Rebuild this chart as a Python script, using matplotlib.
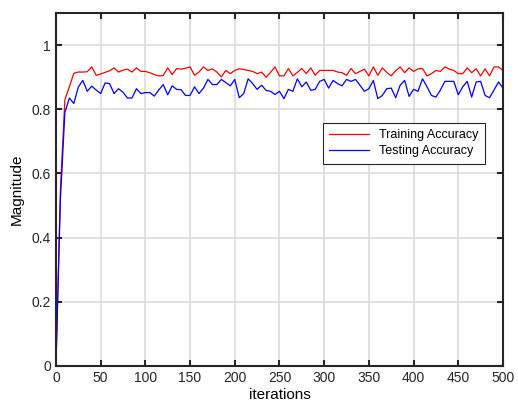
import numpy as np
import matplotlib
matplotlib.use('Agg')
import matplotlib.pyplot as plt

plt.rcParams['font.family'] = ['Liberation Sans', 'DejaVu Sans']

iterations = list(range(0, 501, 5))

train_acc = [0.0, 0.55, 0.83, 0.87, 0.912, 0.916, 0.916, 0.917, 0.932, 0.906,
             0.91, 0.915, 0.92, 0.929, 0.916, 0.922, 0.925, 0.916, 0.929, 0.918,
             0.918, 0.914, 0.908, 0.904, 0.905, 0.929, 0.908, 0.927, 0.925, 0.928,
             0.932, 0.906, 0.916, 0.932, 0.921, 0.926, 0.916, 0.901, 0.921, 0.911,
             0.921, 0.926, 0.924, 0.921, 0.918, 0.911, 0.916, 0.900, 0.915, 0.932,
             0.904, 0.904, 0.927, 0.904, 0.915, 0.927, 0.911, 0.929, 0.906, 0.921,
             0.921, 0.921, 0.921, 0.916, 0.914, 0.906, 0.927, 0.911, 0.918, 0.925,
             0.904, 0.932, 0.906, 0.929, 0.915, 0.904, 0.92, 0.932, 0.914, 0.929,
             0.918, 0.926, 0.927, 0.904, 0.911, 0.921, 0.918, 0.932, 0.925, 0.921,
             0.911, 0.911, 0.929, 0.914, 0.926, 0.904, 0.926, 0.904, 0.932, 0.932,
             0.921]

test_acc = [0.0, 0.52, 0.79, 0.835, 0.818, 0.869, 0.89, 0.856, 0.872, 0.86,
            0.849, 0.882, 0.88, 0.849, 0.864, 0.853, 0.835, 0.835, 0.864, 0.849,
            0.852, 0.852, 0.841, 0.86, 0.877, 0.845, 0.873, 0.862, 0.861, 0.843,
            0.843, 0.87, 0.849, 0.866, 0.893, 0.877, 0.877, 0.893, 0.883, 0.873,
            0.893, 0.836, 0.849, 0.895, 0.88, 0.862, 0.875, 0.859, 0.856, 0.846,
            0.856, 0.833, 0.862, 0.856, 0.895, 0.87, 0.885, 0.859, 0.862, 0.887,
            0.893, 0.866, 0.89, 0.88, 0.873, 0.893, 0.887, 0.893, 0.875, 0.856,
            0.864, 0.89, 0.833, 0.843, 0.864, 0.866, 0.836, 0.875, 0.89, 0.84,
            0.862, 0.856, 0.895, 0.87, 0.843, 0.838, 0.86, 0.887, 0.887, 0.887,
            0.845, 0.87, 0.887, 0.838, 0.885, 0.887, 0.843, 0.836, 0.86, 0.885,
            0.866]

fig = plt.figure(figsize=(5.18, 4.07), dpi=100)
ax = fig.add_axes([0.108, 0.101, 0.863, 0.867])

ax.plot(iterations, train_acc, color='#ff0000', lw=0.9, label='Training Accuracy')
ax.plot(iterations, test_acc, color='#0000ff', lw=0.9, label='Testing Accuracy')

ax.set_xlim(0, 500)
ax.set_ylim(0, 1.1)
ax.set_xticks(np.arange(0, 501, 50))
ax.set_yticks([0, 0.2, 0.4, 0.6, 0.8, 1])
ax.set_yticklabels(['0', '0.2', '0.4', '0.6', '0.8', '1'])
ax.grid(True, color='#dcdcdc', lw=1.2)
ax.set_axisbelow(True)
ax.tick_params(direction='in', top=True, right=True, length=4, width=1.5,
               labelsize=10, colors='#262626')
for s in ax.spines.values():
    s.set_linewidth(1.5)
    s.set_color('#262626')

ax.set_xlabel('iterations', fontsize=11, labelpad=2)
ax.set_ylabel('Magnitude', fontsize=11, labelpad=6)

leg = ax.legend(loc='upper right', bbox_to_anchor=(0.973, 0.707), fontsize=9,
                fancybox=False, framealpha=1, edgecolor='#262626',
                borderpad=0.5, labelspacing=0.35, handlelength=3.2)
leg.get_frame().set_linewidth(0.8)

plt.savefig('out.png', dpi=100)
